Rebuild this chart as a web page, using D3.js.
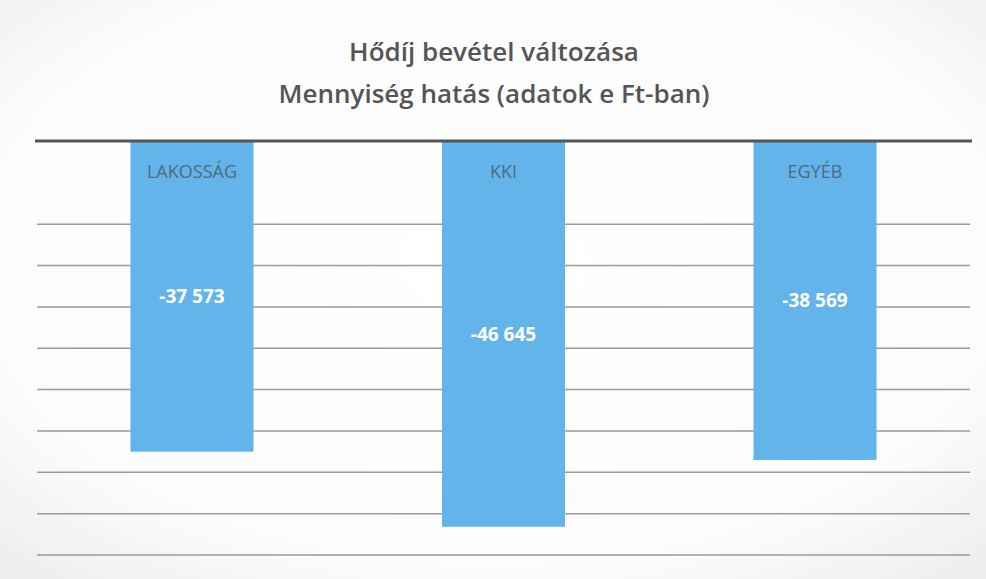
<!DOCTYPE html>
<html>
<head>
<meta charset="utf-8">
<script src="https://cdn.jsdelivr.net/npm/d3@7"></script>
<style>
  body { margin: 0; background: #efefef; }
  svg { display: block; }
</style>
</head>
<body>
<svg></svg>
<script>
// Chart data
const categories = ["LAKOSSÁG", "KKI", "EGYÉB"];
const values = [-37573, -46645, -38569];
const valueLabels = ["-37 573", "-46 645", "-38 569"];
const gridTicks = [-10000, -15000, -20000, -25000, -30000, -35000, -40000, -45000, -50000];
const titleLines = ["Hődíj bevétel változása", "Mennyiség hatás (adatok e Ft-ban)"];

const W = 986, H = 579;
const margin = { top: 141, right: 16, bottom: 23, left: 37 };
const width = W - margin.left - margin.right;
const height = H - margin.top - margin.bottom;

const svg = d3.select("svg")
  .attr("width", W)
  .attr("height", H);

// scanned paper look
const defs = svg.append("defs");
const grad = defs.append("radialGradient").attr("id", "paper")
  .attr("cx", "50%").attr("cy", "45%").attr("r", "75%");
grad.append("stop").attr("offset", "0%").attr("stop-color", "#ffffff");
grad.append("stop").attr("offset", "70%").attr("stop-color", "#fcfcfc");
grad.append("stop").attr("offset", "100%").attr("stop-color", "#ececec");
svg.append("rect").attr("width", W).attr("height", H).attr("fill", "url(#paper)");

// Title
svg.append("g").selectAll("text")
  .data(titleLines)
  .join("text")
  .attr("x", 494)
  .attr("y", (d, i) => 61 + i * 42)
  .attr("text-anchor", "middle")
  .attr("font-family", "'Open Sans', sans-serif")
  .attr("font-weight", 600)
  .attr("font-size", 26)
  .attr("fill", "#555555")
  .text(d => d);

const g = svg.append("g")
  .attr("transform", `translate(${margin.left}, ${margin.top})`);

// Scales
const x = d3.scaleBand()
  .domain(categories)
  .range([0, width])
  .paddingInner(0.605)
  .paddingOuter(0.3);

const y = d3.scaleLinear()
  .domain([0, -50000])
  .range([0, 50000 * 0.00827 ]);

// Gridlines
g.append("g")
  .call(d3.axisLeft(y).tickValues(gridTicks).tickSize(-width).tickFormat(""))
  .call(a => a.select(".domain").remove())
  .call(a => a.selectAll(".tick line")
    .attr("stroke", "#9a9a9a")
    .attr("stroke-width", 1.5));

// Bars
const bars = g.append("g").selectAll("g")
  .data(categories)
  .join("g");

bars.append("rect")
  .attr("x", d => x(d))
  .attr("y", y(0))
  .attr("width", x.bandwidth())
  .attr("height", (d, i) => y(values[i]) - y(0))
  .attr("fill", "#63b4ea");

bars.append("text")
  .attr("x", d => x(d) + x.bandwidth() / 2)
  .attr("y", 37)
  .attr("text-anchor", "middle")
  .attr("font-family", "'Open Sans', sans-serif")
  .attr("font-size", 18)
  .attr("fill", "#4f6a80")
  .text(d => d);

bars.append("text")
  .attr("x", d => x(d) + x.bandwidth() / 2)
  .attr("y", (d, i) => (y(0) + y(values[i])) / 2)
  .attr("dy", "0.35em")
  .attr("text-anchor", "middle")
  .attr("font-family", "'Open Sans', sans-serif")
  .attr("font-weight", 700)
  .attr("font-size", 19)
  .attr("fill", "#ffffff")
  .text((d, i) => valueLabels[i]);

// Zero axis line
g.append("line")
  .attr("x1", -2).attr("x2", width + 2)
  .attr("y1", y(0)).attr("y2", y(0))
  .attr("stroke", "#555")
  .attr("stroke-width", 3);
</script>
</body>
</html>
